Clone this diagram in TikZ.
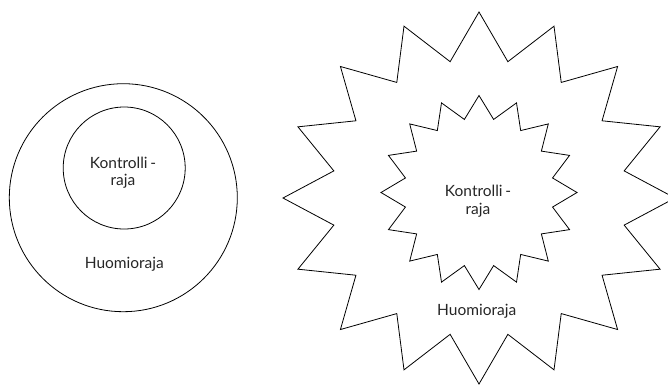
\documentclass[tikz,border=0pt]{standalone}
\usepackage{fontspec}
\setmainfont{Lato}
\begin{document}
\begin{tikzpicture}[x=1pt,y=-1pt,
  outline/.style={draw=black,line width=0.8pt,line join=miter},
  lbl/.style={font=\fontsize{15.5}{17.5}\selectfont,text=black!85,align=center,inner sep=0pt}]
\useasboundingbox (0,0) rectangle (668,384);
% left: two nested circles
\draw[outline] (123.3,197.7) circle[radius=114];
\draw[outline] (124.2,168) circle[radius=61];
\node[lbl] (k1) at (123,172.5) {Kontrolli\,-\\raja};
\node[lbl] (h1) at (124.3,264) {Huomioraja};
% right: two nested 16-point stars
\draw[outline] plot[samples at={0,...,31}, variable=\i]
  ({479 + (mod(\i,2)==0 ? 196 : 148)*sin(\i*11.25)},
   {198 - (mod(\i,2)==0 ? 186 : 139)*cos(\i*11.25)}) -- cycle;
\draw[outline] plot[samples at={0,...,31}, variable=\i]
  ({479 + (mod(\i,2)==0 ? 98 : 75)*sin(\i*11.25)},
   {192.5 - (mod(\i,2)==0 ? 97 : 74.5)*cos(\i*11.25)}) -- cycle;
\node[lbl] (k2) at (478,201) {Kontrolli\,-\\raja};
\node[lbl] (h2) at (476.7,311.7) {Huomioraja};
\end{tikzpicture}
\end{document}
